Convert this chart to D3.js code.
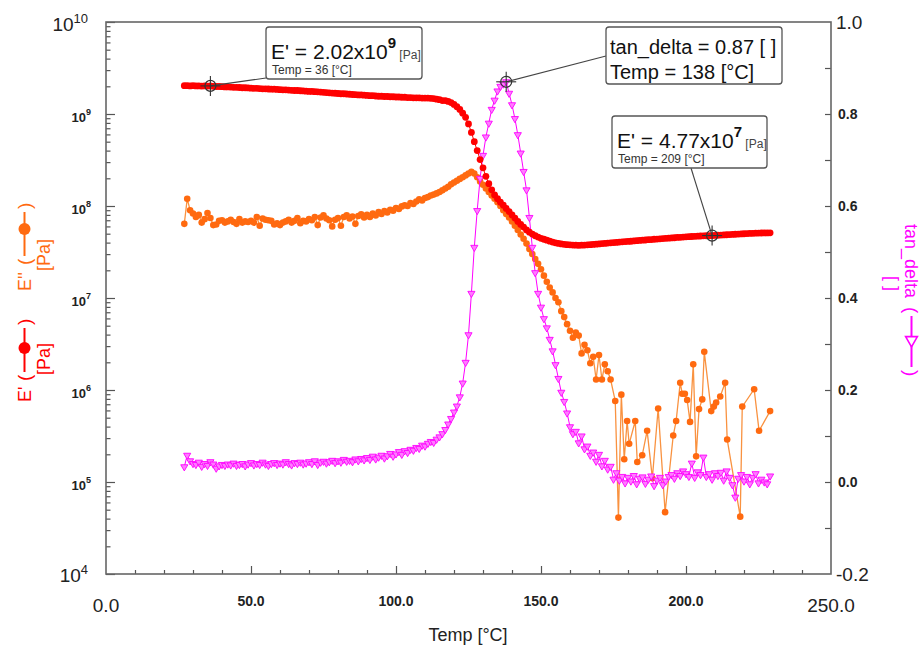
<!DOCTYPE html>
<html><head><meta charset="utf-8">
<script src="https://cdn.jsdelivr.net/npm/d3@7"></script>
<style>body{margin:0;background:#fff}svg{display:block;font-family:Arial,"Liberation Sans",sans-serif}</style>
</head><body><svg id="c" width="922" height="655"></svg>
<script>
// ---------------- data ----------------
const tempMain = [27,28,29,30,31,32,33,34,35,36,37,38,39,40,41,42,43,44,45,46,47,48,49,50,51,52,53,54,55,56,57,58,59,60,61,62,63,64,65,66,67,68,69,70,71,72,73,74,75,76,77,78,79,80,81,82,83,84,85,86,87,88,89,90,91,92,93,94,95,96,97,98,99,100,101,102,103,104,105,106,107,108,109,110,111,112,113,114,115,116,117,118,119,120,121,122,123,124,125,126,127,128,129,130,131,132,133,134,135,136,137,138,139,140,141,142,143,144,145,146,147,148,149,150,151,152,153,154,155,156,157,158,159,160,161,162,163,164,165,166,167,168,169,170,171,172,173,174,175,176,177,178,179,180,181,182,183,184,185,186,187,188,189,190,191,192,193,194,195,196,197,198,199,200,201,202,203,204,205,206,207,208,209,210,211,212,213,214,215,216,217,218,219,220,221,222,223,224,225,226,227,228,229];

const eStorage = [
2.03e9,2.03e9,2.02e9,2.03e9,2.02e9,2.02e9,2.01e9,2.02e9,2.01e9,2.02e9,
2.00e9,1.99e9,1.99e9,1.98e9,1.97e9,1.97e9,1.96e9,1.95e9,1.95e9,1.94e9,
1.93e9,1.93e9,1.92e9,1.91e9,1.90e9,1.90e9,1.89e9,1.88e9,1.88e9,1.87e9,
1.86e9,1.86e9,1.85e9,1.84e9,1.83e9,1.83e9,1.82e9,1.81e9,1.80e9,1.80e9,
1.79e9,1.78e9,1.77e9,1.76e9,1.76e9,1.75e9,1.74e9,1.73e9,1.72e9,1.71e9,
1.70e9,1.69e9,1.68e9,1.67e9,1.66e9,1.66e9,1.65e9,1.64e9,1.63e9,1.62e9,
1.61e9,1.61e9,1.60e9,1.59e9,1.58e9,1.58e9,1.57e9,1.56e9,1.56e9,1.55e9,
1.55e9,1.54e9,1.54e9,1.53e9,1.53e9,1.52e9,1.52e9,1.51e9,1.51e9,1.50e9,
1.50e9,1.50e9,1.49e9,1.49e9,1.49e9,1.48e9,1.47e9,1.45e9,1.43e9,1.40e9,
1.40e9,1.37e9,1.33e9,1.27e9,1.20e9,1.12e9,1.02e9,9.2e8,7.8e8,6.3e8,
5.0e8,4.0e8,3.2e8,2.6e8,2.1e8,1.75e8,1.5e8,1.32e8,1.2e8,1.1e8,
1.02e8,9.4e7,8.7e7,8.0e7,7.4e7,6.8e7,6.3e7,5.9e7,5.5e7,5.2e7,
4.95e7,4.75e7,4.6e7,4.45e7,4.35e7,4.25e7,4.15e7,4.05e7,3.98e7,3.92e7,
3.87e7,3.83e7,3.8e7,3.78e7,3.76e7,3.75e7,3.74e7,3.75e7,3.76e7,3.78e7,
3.8e7,3.82e7,3.85e7,3.87e7,3.9e7,3.92e7,3.95e7,3.98e7,4.0e7,4.02e7,
4.05e7,4.08e7,4.1e7,4.12e7,4.14e7,4.17e7,4.2e7,4.22e7,4.25e7,4.27e7,
4.3e7,4.32e7,4.35e7,4.37e7,4.4e7,4.42e7,4.45e7,4.47e7,4.5e7,4.52e7,
4.55e7,4.57e7,4.6e7,4.62e7,4.64e7,4.66e7,4.68e7,4.7e7,4.72e7,4.74e7,
4.75e7,4.76e7,4.77e7,4.79e7,4.81e7,4.83e7,4.85e7,4.87e7,4.89e7,4.91e7,
4.93e7,4.95e7,4.97e7,4.99e7,5.01e7,5.03e7,5.05e7,5.07e7,5.08e7,5.09e7,
5.1e7,5.1e7,5.11e7];

const tanDelta = [
0.033,0.058,0.046,0.040,0.038,0.043,0.034,0.040,0.036,0.044,
0.039,0.030,0.035,0.038,0.036,0.039,0.037,0.041,0.036,0.038,
0.040,0.035,0.039,0.042,0.037,0.040,0.038,0.043,0.039,0.036,
0.040,0.042,0.038,0.041,0.039,0.044,0.040,0.037,0.042,0.040,
0.043,0.039,0.041,0.044,0.040,0.046,0.038,0.043,0.045,0.041,
0.044,0.047,0.042,0.046,0.043,0.049,0.045,0.047,0.044,0.050,
0.046,0.051,0.048,0.053,0.049,0.056,0.050,0.054,0.058,0.052,
0.057,0.062,0.056,0.061,0.066,0.060,0.068,0.064,0.071,0.069,
0.075,0.073,0.080,0.078,0.084,0.088,0.086,0.093,0.098,0.105,
0.114,0.126,0.138,0.152,0.165,0.185,0.215,0.26,0.32,0.41,
0.51,0.59,0.66,0.71,0.75,0.78,0.81,0.83,0.85,0.86,
0.865,0.87,0.845,0.82,0.79,0.755,0.715,0.675,0.635,0.575,
0.51,0.455,0.41,0.38,0.355,0.335,0.31,0.285,0.255,0.225,
0.195,0.175,0.15,0.12,0.105,0.11,0.085,0.10,0.072,0.078,
0.058,0.065,0.045,0.060,0.035,0.047,0.028,0.034,0.006,0.020,
0.004,0.012,-0.002,0.010,0.002,0.014,-0.004,0.008,0.011,-0.003,
0.006,0.013,-0.008,0.004,0.010,-0.006,0.002,0.012,0.016,0.008,
0.020,0.014,0.024,0.018,0.012,0.041,0.010,0.022,0.016,0.054,
0.012,0.018,0.006,0.020,0.014,0.021,0.004,0.024,0.010,-0.006,
-0.033,0.008,0.016,0.002,0.012,-0.004,0.010,0.018,-0.002,0.006,
0.000,-0.004,0.013];

const tempLoss = [27,28,29,30,31,32,33,34,35,36,37,38,39,40,41,42,43,44,45,46,47,48,49,50,51,52,53,54,55,56,57,58,59,60,61,62,63,64,65,66,67,68,69,70,71,72,73,74,75,76,77,78,79,80,81,82,83,84,85,86,87,88,89,90,91,92,93,94,95,96,97,98,99,100,101,102,103,104,105,106,107,108,109,110,111,112,113,114,115,116,117,118,119,120,121,122,123,124,125,126,127,128,129,130,131,132,133,134,135,136,137,138,139,140,141,142,143,144,145,146,147,148,149,150,151,152,153,154,155,156,157,158,159,160,161,162,163,164,165,166,167,168,169,170,171,172,173,174,
175.6,176.7,177.7,178.7,179.7,180.4,182.5,183.2,184.9,186.6,188.4,190.4,192.8,195.6,196.6,198,198.7,199.6,200.4,201.4,202.5,203.5,204.5,205.6,206.3,208.7,209.6,210.4,211.8,213.5,214.2,218.7,219.4,223.5,225.2,229];

const eLoss = [
6.4e7,1.2e8,9.0e7,8.3e7,7.6e7,8.0e7,6.6e7,7.2e7,8.4e7,7.4e7,
6.2e7,6.3e7,6.9e7,7.0e7,6.6e7,6.8e7,7.1e7,6.7e7,6.4e7,7.2e7,
6.6e7,6.8e7,6.7e7,6.9e7,6.6e7,7.6e7,6.1e7,7.3e7,7.1e7,7.0e7,
6.9e7,6.3e7,6.5e7,6.2e7,6.6e7,6.8e7,7.1e7,6.6e7,6.9e7,7.4e7,
6.5e7,6.9e7,6.8e7,7.2e7,7.0e7,7.6e7,6.2e7,7.5e7,7.9e7,7.3e7,
7.0e7,6.0e7,7.1e7,7.4e7,6.1e7,7.6e7,7.9e7,7.3e7,7.7e7,6.4e7,
7.8e7,8.1e7,7.5e7,8.0e7,7.6e7,8.3e7,7.9e7,8.6e7,8.2e7,8.8e7,
8.5e7,9.1e7,8.9e7,9.5e7,9.3e7,9.9e7,1.02e8,1.0e8,1.08e8,1.05e8,
1.12e8,1.18e8,1.15e8,1.22e8,1.25e8,1.3e8,1.33e8,1.37e8,1.42e8,1.48e8,
1.55e8,1.62e8,1.72e8,1.8e8,1.88e8,1.97e8,2.05e8,2.15e8,2.25e8,2.35e8,
2.25e8,2.05e8,1.85e8,1.7e8,1.55e8,1.42e8,1.3e8,1.2e8,1.1e8,1.0e8,
9.0e7,8.2e7,7.5e7,6.8e7,6.1e7,5.5e7,4.9e7,4.4e7,3.9e7,3.4e7,
3.0e7,2.65e7,2.35e7,2.05e7,1.75e7,1.5e7,1.3e7,1.15e7,1.0e7,9.0e6,
7.2e6,6.2e6,5.2e6,4.4e6,3.7e6,4.2e6,3.9e6,2.5e6,3.1e6,2.7e6,
1.95e6,2.3e6,1.3e6,2.4e6,1.3e6,1.9e6,1.6e6,1.3e6,
7.6e5,4.1e4,8.9e5,1.77e5,4.6e5,2.6e5,4.6e5,1.65e5,1.95e5,3.6e5,1.1e5,6.3e5,4.7e4,3.2e5,4.6e5,1.2e6,9.1e5,9.1e5,7.8e5,4.5e5,1.9e6,1.9e5,6.2e5,7.9e5,2.6e6,5.9e5,6.6e5,7.3e5,8.5e5,1.2e6,2.9e5,4.2e4,6.6e5,1.02e6,3.6e5,5.9e5];

const xMinorTicks = [10,20,30,40,60,70,80,90,110,120,130,140,160,170,180,190,210,220,230,240];
const xMajorTicks = [50,100,150,200];
const xTickLabels = ["0.0","50.0","100.0","150.0","200.0","250.0"];
const xTickLabelValues = [0,50,100,150,200,250];
const leftExponents = [4,5,6,7,8,9,10];
const rightTicks = [-0.1,0.0,0.1,0.2,0.3,0.4,0.5,0.6,0.7,0.8,0.9];
const rightTickLabels = ["-0.2","0.0","0.2","0.4","0.6","0.8","1.0"];
const rightTickLabelValues = [-0.2,0.0,0.2,0.4,0.6,0.8,1.0];

const annotations = [
  {t:36, v:2.02e9, axis:"L", line1:"E' = 2.02x10", sup:"9", unit:"[Pa]", line2:"Temp = 36 [°C]", box:[266,27,156,52], anchor:[266,78], small:true},
  {t:138, v:0.87, axis:"R", line1:"tan_delta = 0.87 [ ]", line2:"Temp = 138 [°C]", box:[606,27,176,57], anchor:[606,56], small:false},
  {t:209, v:4.77e7, axis:"L", line1:"E' = 4.77x10", sup:"7", unit:"[Pa]", line2:"Temp = 209 [°C]", box:[612,116,155,52], anchor:[691,168], small:true}
];

// ---------------- colors ----------------
const cRed = "#ff0000", cOrange = "#ff6a10", cOrangeLine = "#f99240", cMag = "#ff00ff";

// ---------------- scales ----------------
const X0 = 106, X1 = 831, Y0 = 574, Y1 = 22;
const x = d3.scaleLinear().domain([0,250]).range([X0,X1]);
const yL = d3.scaleLog().domain([1e4,1e10]).range([Y0,Y1]);
const yR = d3.scaleLinear().domain([-0.2,1.0]).range([Y0,Y1]);

const svg = d3.select("#c");
const tickColor = "#555";
function cleanAxis(g){ g.select(".domain").remove(); g.selectAll("line").attr("stroke",tickColor).attr("stroke-width",1.2); g.selectAll("text").remove(); }

// ticks
svg.append("g").attr("transform",`translate(0,${Y0})`).call(d3.axisBottom(x).tickValues(xMinorTicks).tickSizeInner(-4).tickSizeOuter(0)).call(cleanAxis);
svg.append("g").attr("transform",`translate(0,${Y0})`).call(d3.axisBottom(x).tickValues(xMajorTicks).tickSizeInner(-8).tickSizeOuter(0)).call(cleanAxis);
const decades = leftExponents.map(e => Math.pow(10,e));
const leftMinor = decades.slice(0,-1).flatMap(d => [2,3,4,5,6,7,8,9].map(k => k*d));
svg.append("g").attr("transform",`translate(${X0},0)`).call(d3.axisLeft(yL).tickValues(leftMinor).tickSizeInner(-4.5).tickSizeOuter(0)).call(cleanAxis);
svg.append("g").attr("transform",`translate(${X0},0)`).call(d3.axisLeft(yL).tickValues(decades).tickSizeInner(-9).tickSizeOuter(0)).call(cleanAxis);
svg.append("g").attr("transform",`translate(${X1},0)`).call(d3.axisRight(yR).tickValues(rightTicks).tickSizeInner(-6).tickSizeOuter(0)).call(cleanAxis);

// frame
svg.append("rect").attr("x",X0).attr("y",Y1).attr("width",X1-X0).attr("height",Y0-Y1)
  .attr("fill","none").attr("stroke","#666").attr("stroke-width",1.6);

// tick labels bottom
xTickLabelValues.forEach((v,i) => {
  const big = (i===0 || i===xTickLabelValues.length-1);
  svg.append("text").attr("x",x(v)).attr("y", big ? 612 : 606).attr("text-anchor","middle")
    .attr("font-size", big ? 19 : 14).attr("font-weight", big ? "normal" : "bold").attr("fill","#222")
    .text(xTickLabels[i]);
});
// tick labels left
leftExponents.forEach((e,i) => {
  const big = (i===0 || i===leftExponents.length-1);
  const yy = yL(Math.pow(10,e));
  const t = svg.append("text").attr("text-anchor","end").attr("fill","#222")
    .attr("font-weight", big ? "normal" : "bold");
  if (big) {
    t.attr("x", e===10 ? 88 : 88).attr("y", yy + (e===10 ? 9 : 8));
    t.append("tspan").attr("font-size",19).text("10");
    t.append("tspan").attr("font-size",13).attr("dy",-8).text(String(e));
  } else {
    t.attr("x",91).attr("y",yy+8);
    t.append("tspan").attr("font-size",13).text("10");
    t.append("tspan").attr("font-size",9).attr("dy",-7).text(String(e));
  }
});
// tick labels right
rightTickLabelValues.forEach((v,i) => {
  const big = (i===0 || i===rightTickLabelValues.length-1);
  svg.append("text").attr("x", big ? 836 : 838).attr("y", yR(v) + (big ? 7 : 5))
    .attr("font-size", big ? 19 : 14).attr("font-weight", big ? "normal" : "bold").attr("fill","#222")
    .text(rightTickLabels[i]);
});
// x axis title
svg.append("text").attr("x",468).attr("y",641).attr("text-anchor","middle").attr("font-size",18).attr("fill","#222").text("Temp [°C]");

// ---------------- series ----------------
const plot = svg.append("g");
const orangeData = tempLoss.map((t,i) => [t, eLoss[i]]);
const redData = tempMain.map((t,i) => [t, eStorage[i]]);
const magData = tempMain.map((t,i) => [t, tanDelta[i]]);

plot.append("path").datum(orangeData).attr("fill","none").attr("stroke",cOrangeLine).attr("stroke-width",1.3)
  .attr("d", d3.line().x(d=>x(d[0])).y(d=>yL(d[1])));
plot.append("g").selectAll("circle").data(orangeData).join("circle")
  .attr("cx",d=>x(d[0])).attr("cy",d=>yL(d[1])).attr("r",3.3).attr("fill",cOrange);

plot.append("path").datum(magData).attr("fill","none").attr("stroke",cMag).attr("stroke-width",1)
  .attr("d", d3.line().x(d=>x(d[0])).y(d=>yR(d[1])));
const tri = d3.symbol().type(d3.symbolTriangle).size(22);
plot.append("g").selectAll("path").data(magData).join("path")
  .attr("d", tri).attr("transform", d=>`translate(${x(d[0])},${yR(d[1])}) rotate(180)`)
  .attr("fill","#ff7dff").attr("stroke",cMag).attr("stroke-width",0.9);

plot.append("path").datum(redData).attr("fill","none").attr("stroke",cRed).attr("stroke-width",1)
  .attr("d", d3.line().x(d=>x(d[0])).y(d=>yL(d[1])));
plot.append("g").selectAll("circle").data(redData).join("circle")
  .attr("cx",d=>x(d[0])).attr("cy",d=>yL(d[1])).attr("r",3.4).attr("fill",cRed);

// ---------------- axis legends ----------------
function modLegend(tx, ty, color, label, lineStart, lineEnd, dotPos, closePos, unitPos, isTri){
  const g = svg.append("g").attr("transform",`translate(${tx},${ty}) rotate(${isTri ? 90 : -90})`).attr("fill",color);
  g.append("text").attr("x",0).attr("y",0).attr("font-size",18).text(label);
  g.append("text").attr("x",lineStart-9).attr("y",0).attr("font-size",19).text("(");
  g.append("line").attr("x1",lineStart).attr("x2",lineEnd).attr("y1",-6.5).attr("y2",-6.5).attr("stroke",color).attr("stroke-width",2);
  if (isTri) {
    g.append("path").attr("d", d3.symbol().type(d3.symbolTriangle).size(60)).attr("transform",`translate(${dotPos},-6.5) rotate(90)`)
      .attr("fill","#fff").attr("stroke",color).attr("stroke-width",1.6);
  } else {
    g.append("circle").attr("cx",dotPos).attr("cy",-6.5).attr("r",6).attr("fill",color);
  }
  g.append("text").attr("x",closePos).attr("y",0).attr("font-size",19).text(")");
  g.append("text").attr("x",unitPos).attr("y",19).attr("font-size",18).text(isTri ? "[ ]" : "[Pa]");
}
modLegend(31, 291, cOrange, "E''", 35, 79, 62, 82, 20, false);
modLegend(31, 402, cRed, "E'", 30, 74, 54, 77, 27, false);
modLegend(905, 224, cMag, "tan_delta", 92, 143, 116, 146, 52, true);

// ---------------- annotations ----------------
const ann = svg.append("g");
annotations.forEach(a => {
  const mx = x(a.t), my = a.axis==="L" ? yL(a.v) : yR(a.v);
  ann.append("line").attr("x1",mx).attr("y1",my).attr("x2",a.anchor[0]).attr("y2",a.anchor[1]).attr("stroke","#444").attr("stroke-width",1.1);
  ann.append("circle").attr("cx",mx).attr("cy",my).attr("r",5.5).attr("fill","none").attr("stroke","#333").attr("stroke-width",1.2);
  ann.append("line").attr("x1",mx-10).attr("x2",mx+10).attr("y1",my).attr("y2",my).attr("stroke","#333").attr("stroke-width",1.1);
  ann.append("line").attr("x1",mx).attr("x2",mx).attr("y1",my-10).attr("y2",my+10).attr("stroke","#333").attr("stroke-width",1.1);
  const [bx,by,bw,bh] = a.box;
  ann.append("rect").attr("x",bx).attr("y",by).attr("width",bw).attr("height",bh).attr("rx",3)
    .attr("fill","#fff").attr("stroke","#555").attr("stroke-width",1.3);
  if (a.small) {
    const t = ann.append("text").attr("x",bx+5).attr("y",by+32).attr("fill","#111");
    t.append("tspan").attr("font-size",21).text(a.line1);
    t.append("tspan").attr("font-size",15).attr("font-weight","bold").attr("dy",-11).text(a.sup);
    t.append("tspan").attr("font-size",12).attr("dy",11).attr("fill","#444").text(" " + a.unit);
    ann.append("text").attr("x",bx+6).attr("y",by+47).attr("font-size",12).attr("fill","#333").text(a.line2);
  } else {
    ann.append("text").attr("x",bx+4).attr("y",by+27).attr("font-size",20).attr("fill","#111").text(a.line1);
    ann.append("text").attr("x",bx+4).attr("y",by+52).attr("font-size",20).attr("fill","#111").text(a.line2);
  }
});
</script></body></html>
